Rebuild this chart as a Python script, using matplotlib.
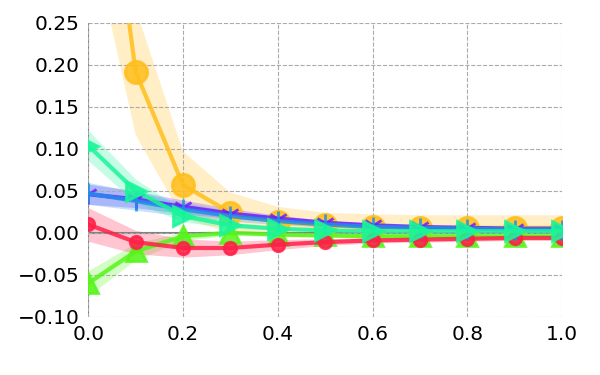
import matplotlib
matplotlib.use("Agg")
import matplotlib.pyplot as plt
import numpy as np

# x positions shared by every series
x = [0.0, 0.1, 0.2, 0.3, 0.4, 0.5, 0.6, 0.7, 0.8, 0.9, 1.0]

# series values and band half-widths
orange = [0.62, 0.192, 0.057, 0.024, 0.013, 0.009, 0.007, 0.006, 0.006, 0.006, 0.006]
orange_err = [0.25, 0.075, 0.04, 0.024, 0.018, 0.015, 0.015, 0.015, 0.015, 0.015, 0.015]
purple = [0.046, 0.040, 0.031, 0.023, 0.017, 0.012, 0.009, 0.007, 0.006, 0.005, 0.005]
purple_err = [0.012, 0.010, 0.008, 0.006, 0.004, 0.003, 0.002, 0.002, 0.002, 0.002, 0.002]
blue = [0.047, 0.038, 0.028, 0.020, 0.014, 0.010, 0.007, 0.006, 0.005, 0.004, 0.004]
blue_err = [0.013, 0.011, 0.008, 0.006, 0.004, 0.003, 0.002, 0.002, 0.002, 0.002, 0.002]
teal = [0.104, 0.050, 0.020, 0.009, 0.005, 0.003, 0.002, 0.002, 0.002, 0.002, 0.002]
teal_err = [0.018, 0.014, 0.007, 0.003, 0.002, 0.002, 0.002, 0.002, 0.002, 0.002, 0.002]
lime = [-0.060, -0.022, -0.004, 0.000, -0.002, -0.003, -0.004, -0.004, -0.004, -0.004, -0.004]
lime_err = [0.015, 0.010, 0.005, 0.003, 0.002, 0.002, 0.002, 0.002, 0.002, 0.002, 0.002]
red = [0.010, -0.011, -0.018, -0.018, -0.014, -0.011, -0.009, -0.008, -0.007, -0.006, -0.006]
red_err = [0.020, 0.014, 0.011, 0.008, 0.006, 0.004, 0.003, 0.003, 0.003, 0.003, 0.003]

fig = plt.figure(figsize=(6, 3.75), dpi=100)
ax = fig.add_axes([0.147, 0.155, 0.79, 0.784])

series = [
    (orange, orange_err, "#FFBE1C", "o", 16, 2),
    (lime, lime_err, "#55F51A", "^", 14, 3),
    (red, red_err, "#FF1F48", "o", 9, 4),
    (purple, purple_err, "#6A1FFF", "1", 14, 5),
    (blue, blue_err, "#1F8FE8", "|", 14, 6),
    (teal, teal_err, "#1AF59A", ">", 15, 7),
]

for ys, err, col, mk, ms, z in series:
    ys = np.array(ys)
    err = np.array(err)
    ax.fill_between(x, ys - err, ys + err, color=col, alpha=0.25, lw=0, zorder=1)
    ax.plot(x, ys, color=col, lw=3, zorder=z, marker=mk, markersize=ms,
            markeredgewidth=2, alpha=0.85)

ax.axhline(0, color="grey", lw=1.5, zorder=1.5)
ax.axvline(0, color="grey", lw=1.5, zorder=1.5)

ax.set_xlim(0, 1)
ax.set_ylim(-0.1, 0.25)
ax.set_xticks([0.0, 0.2, 0.4, 0.6, 0.8, 1.0])
ax.set_yticks([-0.10, -0.05, 0.00, 0.05, 0.10, 0.15, 0.20, 0.25])
ax.grid(True, ls="--", color="#aaaaaa", lw=0.8)
for s in ax.spines.values():
    s.set_visible(False)
ax.tick_params(length=0, labelsize=14.5, pad=6)

fig.savefig("out.png", dpi=100)
